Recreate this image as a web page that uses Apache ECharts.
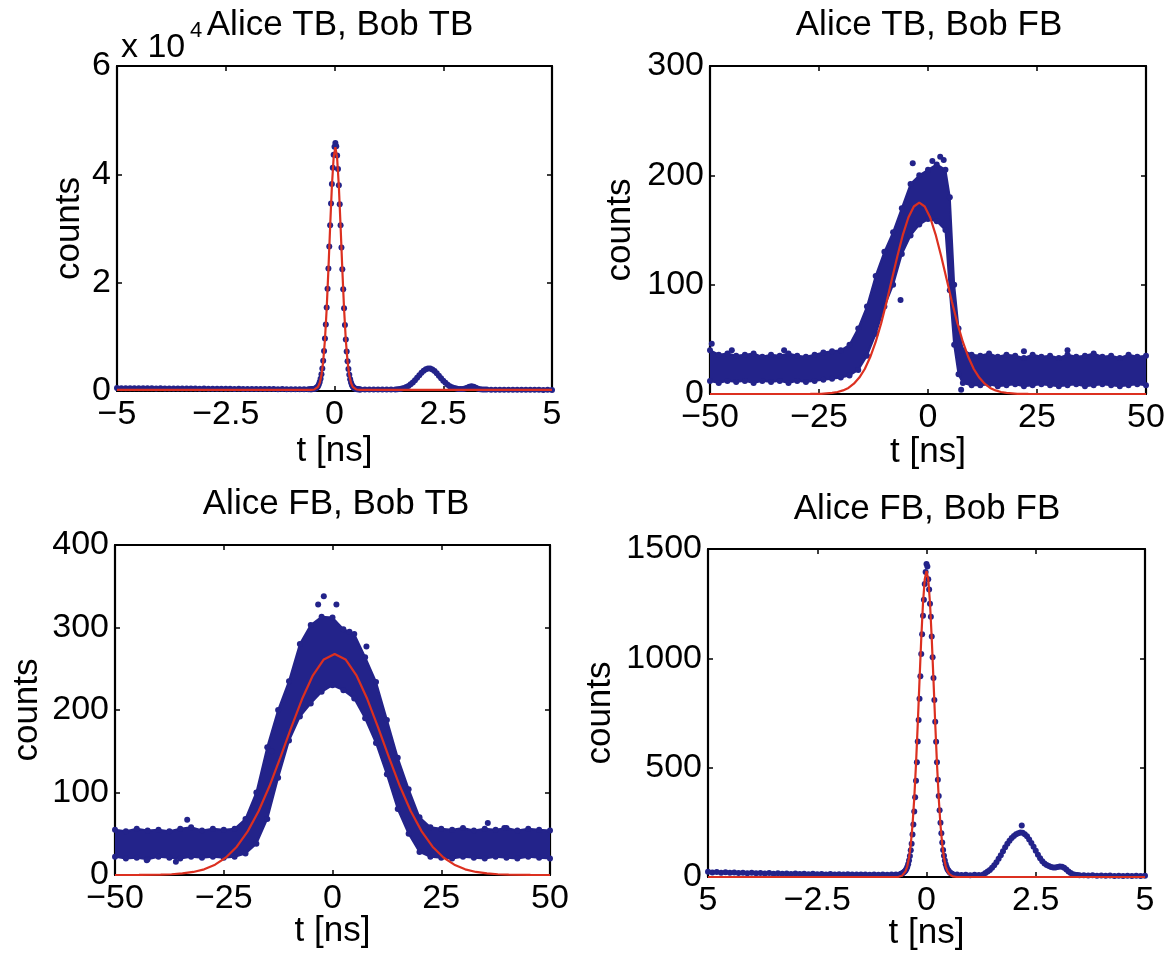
<!DOCTYPE html>
<html>
<head>
<meta charset="utf-8">
<script src="https://cdn.jsdelivr.net/npm/echarts@6/dist/echarts.min.js"></script>
<style>
html,body{margin:0;padding:0;background:#fff;}
#chart{width:1168px;height:956px;}
</style>
</head>
<body>
<div id="chart"></div>
<script>
// ---------------- DATA ----------------
const panelTitles = ['Alice TB, Bob TB', 'Alice TB, Bob FB', 'Alice FB, Bob TB', 'Alice FB, Bob FB'];
const xAxisName = 't [ns]';
const yAxisName = 'counts';

// Panel 1: Alice TB, Bob TB (histogram points)
const p1T = [-5,-4.9,-4.8,-4.7,-4.6,-4.5,-4.4,-4.3,-4.2,-4.1,-4,-3.9,-3.8,-3.7,-3.6,-3.5,-3.4,-3.3,-3.2,-3.1,-3,-2.9,-2.8,-2.7,-2.6,-2.5,-2.4,-2.3,-2.2,-2.1,-2,-1.9,-1.8,-1.7,-1.6,-1.5,-1.4,-1.3,-1.2,-1.1,-1,-0.9,-0.8,-0.7,-0.6,
  -0.56,-0.54,-0.52,-0.5,-0.48,-0.46,-0.44,-0.42,-0.4,-0.38,-0.36,-0.34,-0.32,-0.3,-0.28,-0.26,-0.24,-0.22,-0.2,-0.18,-0.16,-0.14,-0.12,-0.1,-0.08,-0.06,-0.04,-0.02,0,0.02,0.04,0.06,0.08,0.1,0.12,0.14,0.16,0.18,0.2,0.22,0.24,0.26,0.28,0.3,0.32,0.34,0.36,0.38,0.4,0.42,0.44,0.46,0.48,0.5,0.52,0.54,0.56,0.58,0.6,
  0.7,0.8,0.9,1,1.1,1.2,1.3,1.4,
  1.45,1.5,1.55,1.6,1.65,1.7,1.75,1.8,1.85,1.9,1.95,2,2.05,2.1,2.15,2.2,2.25,2.3,2.35,2.4,2.45,2.5,2.55,2.6,2.65,2.7,2.75,2.8,2.85,2.9,2.95,3,3.05,3.1,3.15,3.2,3.25,3.3,3.35,3.4,3.45,3.5,
  3.6,3.7,3.8,3.9,4,4.1,4.2,4.3,4.4,4.5,4.6,4.7,4.8,4.9,5];
const p1Counts = [540,520,530,510,520,500,510,490,500,480,490,470,480,460,470,450,460,440,450,430,440,420,430,410,420,400,410,390,400,380,390,370,380,360,370,350,360,340,350,330,340,330,340,330,340,
  330,340,330,350,370,400,460,540,690,880,1180,1640,2250,3100,4150,5600,7400,9700,12300,15400,18900,22600,26700,30600,34600,38200,41200,43600,45100,45800,45200,43500,41000,38000,34500,30600,26500,22500,18800,15300,12200,9500,7300,5500,4050,3000,2150,1560,1130,830,630,500,420,370,340,320,310,300,300,
  290,280,290,280,290,280,290,300,
  340,390,460,570,730,940,1230,1590,2000,2450,2930,3370,3750,4030,4170,4150,3990,3690,3290,2830,2360,1910,1510,1170,900,690,540,440,390,370,360,450,610,800,880,800,610,430,330,290,270,260,
  250,240,250,230,240,230,220,230,220,210,220,210,200,210,200];
const p1FitT = [-5,-0.7,-0.54,-0.5,-0.46,-0.42,-0.38,-0.34,-0.3,-0.26,-0.22,-0.18,-0.14,-0.1,-0.06,-0.02,0.02,0.06,0.1,0.14,0.18,0.22,0.26,0.3,0.34,0.38,0.42,0.46,0.5,0.54,0.58,0.7,5];
const p1Fit = [200,200,210,230,280,420,760,1480,2900,5410,9420,15150,22400,30380,37790,43070,45000,43070,37790,30380,22400,15150,9420,5410,2900,1480,760,420,280,230,210,200,200];

// Panel 2: Alice TB, Bob FB (dense noisy cloud: upper / lower envelope)
const p2T = [-50,-48,-46,-44,-42,-40,-38,-36,-34,-32,-30,-28,-26,-24,-22,-20,-18,-16,-14,-12,-10,-8,-6,-4,-2,0,2,4,5,6,7,8,10,12,14,16,18,20,22,24,26,28,30,32,34,36,38,40,42,44,46,48,50];
const p2Upper = [40,36,37,35,36,37,34,36,35,37,35,34,36,38,39,40,45,60,80,108,130,148,170,192,200,205,210,205,180,100,60,40,36,35,37,34,36,35,33,36,34,35,33,36,34,35,37,34,35,33,36,34,35];
const p2Lower = [12,10,12,11,12,10,12,11,12,10,12,11,12,13,14,15,17,22,35,55,80,100,128,145,155,160,158,150,95,45,18,10,8,8,9,7,8,9,7,8,9,8,7,8,9,7,8,9,8,7,8,9,8];
const p2OutT = [-49.6,-45,-33,-6.3,-3.5,1.0,2.8,3.6,7.6,32,22];
const p2OutC = [46,40,40,86,211,213,217,214,4,40,39];
const p2FitT = [-50,-30,-27,-24.5,-22,-20.75,-19.5,-18.25,-17,-15.75,-14.5,-13.25,-12,-10.75,-9.5,-8.25,-7,-5.75,-4.5,-3.25,-2,-0.75,0.5,1.75,3,4.25,5.5,6.75,8,9.25,10.5,11.75,13,14.25,15.5,16.75,18,20.5,23,26,50];
const p2Fit = [0,0,0.05,0.2,1,1.8,3.3,5.6,9.4,15,22.9,33.8,47.6,64.6,84.2,105.3,126.4,145.8,161.4,171.5,175,171.5,161.4,145.8,126.4,105.3,84.2,64.6,47.6,33.8,22.9,15,9.4,5.6,3.3,1.8,1,0.2,0.05,0,0];

// Panel 3: Alice FB, Bob TB (dense noisy cloud)
const p3T = [-50,-47.5,-45,-42.5,-40,-37.5,-35,-32.5,-30,-27.5,-25,-22.5,-20,-17.5,-15,-12.5,-10,-7.5,-5,-2.5,0,2.5,5,7.5,10,12.5,15,17.5,20,22.5,25,27.5,30,32.5,35,37.5,40,42.5,45,47.5,50];
const p3Upper = [55,53,56,54,55,53,56,58,54,56,55,56,68,100,155,200,235,280,303,313,312,298,292,264,234,188,142,104,70,58,56,55,57,54,56,55,57,54,56,55,54];
const p3Lower = [22,20,21,19,22,21,20,22,21,22,21,22,26,38,68,118,163,192,208,222,230,224,214,190,160,122,80,50,28,22,21,20,22,21,20,22,21,20,22,21,20];
const p3OutT = [-42.7,-33.4,-3.3,-2.0,0.9,3.9,7.8,35.7,39.5,-36,-14];
const p3OutC = [18,67,328,338,328,295,277,63,57,16,150];
const p3FitT = [-50,-44.5,-39.5,-37,-34.5,-32,-29.5,-27,-24.5,-22,-19.5,-17,-14.5,-12,-9.5,-7,-4.5,-2,0.5,3,5.5,8,10.5,13,15.5,18,20.5,23,25.5,28,30.5,33,35.5,38,40.5,45.5,50];
const p3Fit = [0,0.1,0.4,0.9,1.9,3.7,6.9,12.5,21.2,34.3,52.9,77.3,107.5,142.2,178.6,213.3,242.1,261.3,268,261.3,242.1,213.3,178.6,142.2,107.5,77.3,52.9,34.3,21.2,12.5,6.9,3.7,1.9,0.9,0.4,0.1,0];

// Panel 4: Alice FB, Bob FB (histogram points)
const p4T = [-5,-4.9,-4.8,-4.7,-4.6,-4.5,-4.4,-4.3,-4.2,-4.1,-4,-3.9,-3.8,-3.7,-3.6,-3.5,-3.4,-3.3,-3.2,-3.1,-3,-2.9,-2.8,-2.7,-2.6,-2.5,-2.4,-2.3,-2.2,-2.1,-2,-1.9,-1.8,-1.7,-1.6,-1.5,-1.4,-1.3,-1.2,-1.1,-1,-0.9,-0.8,-0.7,
  -0.6,-0.58,-0.56,-0.54,-0.52,-0.5,-0.48,-0.46,-0.44,-0.42,-0.4,-0.38,-0.36,-0.34,-0.32,-0.3,-0.28,-0.26,-0.24,-0.22,-0.2,-0.18,-0.16,-0.14,-0.12,-0.1,-0.08,-0.06,-0.04,-0.02,0,0.02,0.04,0.06,0.08,0.1,0.12,0.14,0.16,0.18,0.2,0.22,0.24,0.26,0.28,0.3,0.32,0.34,0.36,0.38,0.4,0.42,0.44,0.46,0.48,0.5,0.52,0.54,0.56,0.58,0.6,
  0.7,0.8,0.9,1,1.1,1.2,1.3,
  1.35,1.4,1.45,1.5,1.55,1.6,1.65,1.7,1.75,1.8,1.85,1.9,1.95,2,2.05,2.1,2.15,2.2,2.25,2.3,2.35,2.4,2.45,2.5,2.55,2.6,2.65,2.7,2.75,2.8,2.85,2.9,2.95,3,3.05,3.1,3.15,3.2,3.25,3.3,3.35,3.4,3.45,3.5,
  3.6,3.7,3.8,3.9,4,4.1,4.2,4.3,4.4,4.5,4.6,4.7,4.8,4.9,5,
  2.18];
const p4Counts = [24,21,23,20,22,19,21,18,20,17,19,17,18,16,18,15,17,15,16,14,16,14,15,13,15,13,14,12,14,12,13,11,13,11,12,11,12,10,12,10,11,10,11,11,
  13,15,16,18,22,25,30,37,46,58,75,96,122,152,194,240,300,365,440,525,620,718,815,918,1020,1110,1195,1268,1340,1395,1431,1420,1362,1315,1250,1190,1100,1005,910,810,710,618,525,445,370,305,248,200,158,124,97,76,58,46,36,30,24,20,17,15,13,
  11,9,10,8,10,9,11,
  18,25,32,42,54,68,84,100,118,136,152,166,178,188,195,200,204,202,196,186,172,156,138,120,102,86,72,62,55,50,46,44,44,46,48,47,42,34,25,18,13,10,9,8,
  8,7,8,6,7,6,7,5,6,5,6,5,6,5,6,
  236];
const p4FitT = [-5,-0.7,-0.64,-0.6,-0.56,-0.52,-0.48,-0.44,-0.4,-0.36,-0.32,-0.28,-0.24,-0.2,-0.16,-0.12,-0.08,-0.04,0,0.04,0.08,0.12,0.16,0.2,0.24,0.28,0.32,0.36,0.4,0.44,0.48,0.52,0.56,0.6,0.64,0.7,5];
const p4Fit = [0,0,1,3,6,13,26,49,88,149,238,361,517,701,899,1091,1253,1362,1400,1362,1253,1091,899,701,517,361,238,149,88,49,26,13,6,3,1,0,0];

// Axis tick setup
const shortRange = {min: -5, max: 5, interval: 2.5};
const longRange = {min: -50, max: 50, interval: 25};
const yRanges = [
  {min: 0, max: 60000, interval: 20000},
  {min: 0, max: 300, interval: 100},
  {min: 0, max: 400, interval: 100},
  {min: 0, max: 1500, interval: 500}
];

// ---------------- STYLE / LAYOUT ----------------
const FONT = 'Liberation Sans';
const NAVY = '#23238a';
const RED = '#dc3020';
const grids = [
  {left: 117, top: 66, width: 435, height: 325},
  {left: 710, top: 66, width: 436, height: 328},
  {left: 115, top: 545, width: 435, height: 330},
  {left: 708, top: 549, width: 437, height: 328}
];
const xNameGaps = [43, 41, 39, 39];
const yNameGaps = [30, 72, 70, 90];
const titlePos = [[340, 8], [929, 8], [336, 487], [927, 492]];

const minus = v => String(v).replace('-', '\u2212');
const xFormatters = [minus, minus, minus, v => (v === -5 ? '5' : minus(v))];
const yFormatters = [v => String(v / 10000), minus, minus, minus];
const xRanges = [shortRange, longRange, longRange, shortRange];

const tickStyle = {show: true, inside: true, length: 5, lineStyle: {color: '#000', width: 1.5}};
const lineStyleAx = {show: true, onZero: false, lineStyle: {color: '#000', width: 2.2}};

const xAxes = [], yAxes = [];
grids.forEach((g, i) => {
  const xr = xRanges[i], yr = yRanges[i];
  xAxes.push({
    type: 'value', gridIndex: i, position: 'bottom', min: xr.min, max: xr.max, interval: xr.interval,
    axisLine: lineStyleAx, axisTick: tickStyle, splitLine: {show: false},
    axisLabel: {show: true, showMinLabel: true, showMaxLabel: true, fontSize: 34, fontFamily: FONT, color: '#000', margin: 7, formatter: xFormatters[i]},
    name: xAxisName, nameLocation: 'middle', nameGap: xNameGaps[i], nameMoveOverlap: false,
    nameTextStyle: {fontSize: 35, fontFamily: FONT, color: '#000'}
  });
  xAxes.push({
    type: 'value', gridIndex: i, position: 'top', min: xr.min, max: xr.max, interval: xr.interval,
    axisLine: lineStyleAx, axisTick: tickStyle, splitLine: {show: false}, axisLabel: {show: false}
  });
  yAxes.push({
    type: 'value', gridIndex: i, position: 'left', min: yr.min, max: yr.max, interval: yr.interval,
    axisLine: lineStyleAx, axisTick: tickStyle, splitLine: {show: false},
    axisLabel: {show: true, showMinLabel: true, showMaxLabel: true, fontSize: 34, fontFamily: FONT, color: '#000', margin: 6, formatter: yFormatters[i]},
    name: yAxisName, nameLocation: 'middle', nameGap: yNameGaps[i], nameRotate: 90, nameMoveOverlap: false,
    nameTextStyle: {fontSize: 35, fontFamily: FONT, color: '#000'}
  });
  yAxes.push({
    type: 'value', gridIndex: i, position: 'right', min: yr.min, max: yr.max, interval: yr.interval,
    axisLine: lineStyleAx, axisTick: tickStyle, splitLine: {show: false}, axisLabel: {show: false}
  });
});

const zip = (a, b) => a.map((v, i) => [v, b[i]]);

function bandSeries(i, tArr, up, lo) {
  return {
    type: 'custom', xAxisIndex: 2 * i, yAxisIndex: 2 * i, z: 1,
    data: zip(tArr, up),
    renderItem: function (params, api) {
      if (params.dataIndex !== 0) return null;
      const pts = [];
      for (let k = 0; k < tArr.length; k++) pts.push(api.coord([tArr[k], up[k]]));
      for (let k = tArr.length - 1; k >= 0; k--) pts.push(api.coord([tArr[k], lo[k]]));
      const cs = params.coordSys;
      return {
        type: 'group',
        clipPath: {type: 'rect', shape: {x: cs.x, y: cs.y, width: cs.width, height: cs.height}},
        children: [{type: 'polygon', shape: {points: pts}, style: {fill: NAVY, stroke: NAVY, lineWidth: 2, lineJoin: 'round'}}]
      };
    },
    silent: true
  };
}
function dotSeries(i, data, size) {
  return {type: 'scatter', xAxisIndex: 2 * i, yAxisIndex: 2 * i, data: data, symbolSize: size, z: 2,
    itemStyle: {color: NAVY, opacity: 1}, clip: true, silent: true};
}
function fitSeries(i, tArr, vals, smooth) {
  return {type: 'line', xAxisIndex: 2 * i, yAxisIndex: 2 * i, data: zip(tArr, vals), showSymbol: false,
    smooth: smooth, z: 5, lineStyle: {color: RED, width: 2.2}, clip: true, silent: true};
}

const series = [
  dotSeries(0, zip(p1T, p1Counts), 6),
  fitSeries(0, p1FitT, p1Fit, false),
  bandSeries(1, p2T, p2Upper, p2Lower),
  dotSeries(1, zip(p2T, p2Upper).concat(zip(p2T, p2Lower)).concat(zip(p2OutT, p2OutC)), 6),
  fitSeries(1, p2FitT, p2Fit, false),
  bandSeries(2, p3T, p3Upper, p3Lower),
  dotSeries(2, zip(p3T, p3Upper).concat(zip(p3T, p3Lower)).concat(zip(p3OutT, p3OutC)), 6),
  fitSeries(2, p3FitT, p3Fit, false),
  dotSeries(3, zip(p4T, p4Counts), 6),
  fitSeries(3, p4FitT, p4Fit, false)
];

const titles = panelTitles.map((t, i) => ({
  text: t, left: titlePos[i][0], top: titlePos[i][1], textAlign: 'center', padding: 0,
  textStyle: {fontSize: 35, fontWeight: 'normal', fontFamily: FONT, color: '#000'}
}));

const chart = echarts.init(document.getElementById('chart'), null, {renderer: 'canvas'});
chart.setOption({
  animation: false,
  backgroundColor: '#fff',
  title: titles,
  grid: grids.map(g => Object.assign({containLabel: false, outerBoundsMode: 'none'}, g)),
  xAxis: xAxes,
  yAxis: yAxes,
  graphic: [
    {type: 'text', left: 121, top: 31, style: {text: 'x 10', fontSize: 34, fontFamily: FONT, fill: '#000'}},
    {type: 'text', left: 190, top: 20, style: {text: '4', fontSize: 22, fontFamily: FONT, fill: '#000'}}
  ],
  series: series
});
</script>
</body>
</html>
